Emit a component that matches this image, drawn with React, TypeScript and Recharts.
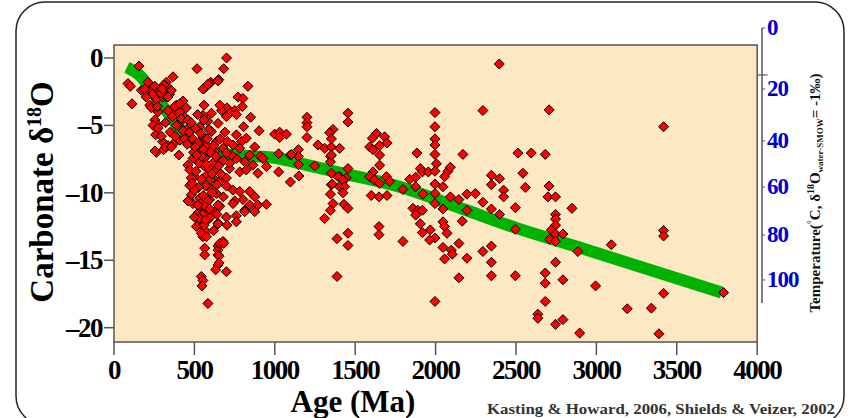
import { ComposedChart, Scatter, Line, XAxis, YAxis, ReferenceArea, ReferenceLine } from 'recharts';

// [age Ma, carbonate d18O permil]
const phanerozoic = [
  [155, -0.6], [87, -1.9], [102, -2.1], [112, -3.4], [170, -2.4], [211, -1.8], [233, -2.4], [243, -2.7],
  [191, -2.3], [222, -3.5], [254, -2.1], [264, -3.1], [239, -2.7], [326, -1.8], [367, -1.4], [284, -2.4],
  [316, -2.5], [336, -2.2], [303, -2.9], [346, -2.7], [295, -2.2], [310, -2.0], [290, -2.6], [325, -2.9],
  [300, -2.3], [357, -2.4], [336, -2.9], [429, -3.2], [388, -3.5], [367, -4.0], [409, -4.0], [440, -4.4],
  [419, -4.7], [388, -5.0], [254, -4.6], [274, -5.0], [259, -5.7], [301, -6.2], [264, -7.0], [309, -6.8],
  [336, -6.5], [367, -6.4], [404, -7.2], [409, -6.1], [233, -3.7], [274, -4.0], [243, -5.0], [274, -5.2],
  [295, -5.8], [255, -6.9], [321, -6.6], [357, -6.6], [440, -6.0], [363, -4.35], [336, -3.9], [377, -3.6],
  [409, -3.4], [450, -3.7], [419, -4.5], [460, -4.6], [455, -6.4], [450, -5.3], [200, -2.9], [270, -3.6],
  [320, -4.8], [350, -5.5], [380, -5.8], [430, -5.4],
];

const neoproterozoic = [
  [516, -0.8], [700, 0.0], [682, -0.8], [651, -1.6], [601, -1.8], [558, -2.3], [575, -2.1], [595, -1.9],
  [647, -1.7], [553, -2.3], [584, -1.95], [833, -2.1], [771, -2.9], [802, -3.0], [798, -3.6], [751, -3.9],
  [703, -3.7], [719, -4.1], [761, -4.2], [699, -4.35], [668, -3.9], [850, -4.4], [806, -5.1], [761, -5.7],
  [792, -6.2], [740, -6.45], [782, -6.7], [823, -5.95], [902, -5.4], [999, -5.65], [560, -3.5], [606, -4.1],
  [658, -3.5], [553, -4.25], [533, -5.1], [584, -4.7], [647, -4.85], [606, -5.45], [553, -5.85], [637, -6.2],
  [678, -6.7], [626, -6.95], [575, -6.45], [533, -6.95], [491, -7.45], [875, -6.6], [910, -7.3], [844, -7.2],
  [813, -7.7], [761, -7.45], [730, -7.2], [699, -7.05], [658, -7.7], [719, -8.2], [782, -8.45], [823, -8.3],
  [864, -7.95], [895, -8.55], [948, -8.05], [926, -7.45], [460, -7.95], [471, -8.3], [502, -8.8], [471, -9.45],
  [512, -9.65], [481, -10.15], [533, -10.4], [491, -10.8], [553, -11.15], [522, -11.5], [543, -12.15], [512, -12.5],
  [575, -12.9], [553, -13.25], [584, -11.9], [575, -8.7], [616, -8.9], [658, -9.15], [595, -9.65], [637, -10.05],
  [595, -10.5], [658, -11.0], [626, -11.4], [699, -11.8], [647, -12.25], [699, -8.9], [740, -9.8], [782, -9.9],
  [802, -10.5], [751, -10.6], [844, -9.9], [875, -10.3], [844, -10.9], [895, -10.9], [948, -10.85], [813, -11.3],
  [875, -11.4], [761, -11.7], [703, -12.4], [761, -12.15], [678, -13.6], [533, -11.0], [575, -11.4], [553, -11.6],
  [533, -12.3], [584, -12.0], [647, -12.3], [813, -11.4], [740, -10.8], [647, -10.9], [543, -13.0], [575, -13.25],
  [564, -14.1], [564, -14.6], [647, -13.95], [647, -14.25], [658, -13.75], [682, -13.75], [647, -14.6], [647, -15.35],
  [632, -15.7], [699, -15.85], [543, -16.2], [553, -16.5], [547, -16.9], [584, -18.2], [653, -14.7], [653, -15.2],
  [470, -5.5], [490, -6.0], [505, -5.2], [520, -6.3], [540, -5.6], [555, -6.8], [565, -7.4], [580, -6.0],
  [600, -7.0], [615, -7.8], [590, -8.2], [560, -8.0], [530, -7.8], [510, -8.4], [545, -9.0], [570, -9.5],
  [600, -9.0], [625, -8.4], [650, -8.0], [640, -9.4], [610, -10.0], [585, -10.6], [555, -10.2], [525, -9.6],
  [500, -9.8], [540, -10.8], [565, -11.0], [520, -10.9], [480, -8.9], [495, -7.0], [620, -6.5], [660, -6.0],
  [690, -5.5], [705, -6.2], [680, -7.6], [720, -7.8], [700, -9.5], [680, -10.3], [600, -11.8], [560, -12.4],
  [530, -11.9], [620, -12.8], [500, -11.8], [590, -5.3], [560, -4.6], [520, -4.2], [480, -4.8], [505, -6.6],
  [545, -7.3], [575, -7.9], [610, -8.6], [635, -7.3], [665, -8.6], [595, -11.2], [570, -12.0], [515, -7.2],
  [485, -9.3], [460, -10.6], [640, -11.6],
];

const mesoproterozoic = [
  [1030, -5.5], [1030, -5.9], [1072, -5.65], [1200, -4.4], [1200, -4.8], [1200, -5.1], [1200, -5.9], [1024, -7.1],
  [1147, -6.8], [1147, -7.3], [1147, -7.9], [1097, -7.2], [1103, -7.15], [1024, -8.45], [1097, -9.2], [1150, -8.75],
  [1248, -8.0], [1268, -6.45], [1310, -6.7], [1352, -6.6], [1362, -5.3], [1341, -5.55], [1403, -6.7], [1346, -7.3],
  [1346, -7.7], [1352, -8.55], [1403, -8.8], [1352, -9.4], [1346, -10.1], [1403, -9.55], [1445, -8.9], [1455, -8.2],
  [1362, -10.8], [1346, -11.3], [1310, -11.9], [1387, -13.4], [1387, -16.2], [1455, -13.0], [1455, -13.9], [1455, -4.1],
  [1455, -4.75], [1352, -6.0], [1352, -7.2], [1358, -9.35], [1393, -8.8], [1424, -9.05], [1434, -9.55], [1424, -10.0],
  [1430, -10.85], [1455, -11.15], [1632, -5.6], [1607, -5.95], [1590, -6.6], [1611, -6.8], [1652, -6.5], [1683, -5.85],
  [1698, -6.3], [1652, -7.2], [1652, -7.95], [1611, -8.45], [1590, -8.8], [1620, -9.05], [1652, -9.3], [1694, -8.8],
  [1714, -9.15], [1600, -10.2], [1648, -10.3], [1698, -10.2], [1648, -12.5], [1648, -13.1], [1797, -13.6], [1797, -9.75],
];

const archeanPaleo = [
  [1884, -7.05], [1905, -8.2], [1918, -8.45], [1955, -8.45], [1839, -9.0], [1876, -8.85], [1876, -9.55], [1921, -10.1],
  [1996, -4.05], [1996, -5.1], [1996, -6.0], [1996, -6.45], [1996, -7.15], [2005, -7.85], [1996, -8.4], [1996, -9.35],
  [1996, -10.05], [1996, -10.8], [2046, -9.55], [2077, -8.4], [2092, -8.1], [2056, -8.8], [2046, -11.2], [2092, -10.3],
  [2145, -10.5], [2195, -10.1], [2247, -10.05], [2195, -11.3], [2166, -12.1], [1859, -11.15], [1890, -11.3], [1918, -11.3],
  [1876, -11.65], [1905, -12.3], [1918, -12.95], [1967, -12.75], [1996, -13.35], [2046, -12.15], [2056, -12.5], [2071, -13.0],
  [1963, -13.5], [2046, -14.05], [2098, -14.25], [2104, -14.55], [2056, -14.9], [2145, -13.75], [2195, -14.85], [2145, -16.3],
  [1996, -18.05], [2170, -7.15], [2347, -8.7], [2347, -9.4], [2398, -8.95], [2423, -9.8], [2423, -10.3], [2512, -7.05],
  [2595, -7.05], [2682, -7.15], [2543, -8.55], [2558, -9.6], [2705, -9.5], [2699, -10.3], [2746, -10.3], [2294, -10.7],
  [2347, -11.2], [2398, -11.6], [2496, -11.1], [2496, -12.7], [2294, -14.35], [2347, -13.95], [2347, -15.15], [2347, -16.15],
  [2496, -16.15], [2746, -11.6], [2746, -11.95], [2746, -12.4], [2720, -12.75], [2746, -13.05], [2792, -13.05], [2709, -13.45],
  [2746, -13.6], [2848, -11.15], [2746, -15.15], [2682, -15.95], [2682, -16.7], [2792, -16.45], [2682, -18.05], [2636, -19.0],
  [2636, -19.3], [2746, -19.75], [2792, -19.4], [2885, -14.35], [2896, -20.4], [2396, -0.45], [2294, -3.9], [2706, -3.85],
  [3418, -5.1], [3418, -12.8], [3418, -13.2], [3093, -13.85], [2995, -16.9], [3418, -17.45], [3192, -18.6], [3342, -18.55],
  [3389, -20.45], [3791, -17.4],
];

// green trend curve
const fitAges = [80, 160, 250, 350, 470, 600, 750, 1000, 1150, 1400, 1760, 2170, 2500, 2880, 3780];
const fitD18 = [-0.7, -1.3, -2.7, -4.3, -6.1, -6.9, -7.2, -7.4, -7.8, -8.5, -9.5, -11.2, -12.6, -14.0, -17.4];

const xTicks = [0, 500, 1000, 1500, 2000, 2500, 3000, 3500, 4000];
const d18Ticks = [0, -5, -10, -15, -20];
const tempLabels = [0, 20, 40, 60, 80, 100];
const tempAtD18 = [2.22, -2.3, -6.15, -9.57, -13.13, -16.46];

const samples = [...phanerozoic, ...neoproterozoic, ...mesoproterozoic, ...archeanPaleo].map(([age, d18]) => ({ age, d18 }));
const curve = fitAges.map((age, i) => ({ age, d18: fitD18[i] }));

const SERIF = "'Liberation Serif', 'Times New Roman', serif";
const D_MIN = -21.06;
const D_MAX = 2.22;

const Diamond = (p: any) => {
  const { cx, cy } = p;
  if (cx == null || cy == null) return null;
  const r = 5;
  return <polygon points={`${cx},${cy - r} ${cx + r},${cy} ${cx},${cy + r} ${cx - r},${cy}`} fill="#FF0000" stroke="#000" strokeWidth={1} />;
};

const XTick = ({ x, y, payload }: any) => (
  <text x={x} y={y + 22} textAnchor="middle" fontFamily={SERIF} fontWeight="bold" fontSize={27} letterSpacing={-1.5} fill="#000">
    {payload.value}
  </text>
);

const LeftTick = ({ x, y, payload }: any) => (
  <text x={x} y={y + 9} textAnchor="end" fontFamily={SERIF} fontWeight="bold" fontSize={27} letterSpacing={-1.5} fill="#000">
    {payload.value === 0 ? '0' : '\u2013' + Math.abs(payload.value)}
  </text>
);

const RightTick = ({ x, y, payload }: any) => (
  <text x={x} y={y + 7} textAnchor="start" fontFamily={SERIF} fontWeight="bold" fontSize={23} letterSpacing={-1} fill="#0000CC">
    {tempLabels[tempAtD18.indexOf(payload.value)]}
  </text>
);

export default function App() {
  return (
    <div style={{ position: 'absolute', left: 0, top: 0, width: 854, height: 418, background: '#fff' }}>
      <ComposedChart width={854} height={418} margin={{ top: 28, right: 42, bottom: 26, left: 14 }}>
        <XAxis type="number" dataKey="age" domain={[0, 4030]} ticks={xTicks} interval={0} allowDataOverflow
          axisLine={false} tickLine={{ stroke: '#555', strokeWidth: 1.5 }} tickSize={13} tickMargin={2} height={50} tick={XTick} />
        <YAxis yAxisId="d18" type="number" dataKey="d18" domain={[D_MIN, D_MAX]} ticks={d18Ticks} interval={0} allowDataOverflow
          axisLine={false} tickLine={{ stroke: '#555', strokeWidth: 1.5 }} tickSize={10} tickMargin={2} width={100} tick={LeftTick} />
        <YAxis yAxisId="temp" orientation="right" type="number" domain={[D_MIN, D_MAX]} ticks={tempAtD18} interval={0} allowDataOverflow
          axisLine={false} tickLine={{ stroke: '#555' }} tickSize={3} tickMargin={2} width={50} tick={RightTick} />
        <ReferenceArea yAxisId="d18" x1={0} x2={4000} y1={D_MIN} y2={0.96} fill="#FCE8C2" fillOpacity={1} stroke="#555" strokeWidth={1.5} />
        <ReferenceLine yAxisId="d18" segment={[{ x: 4030, y: D_MAX }, { x: 4030, y: -18.17 }]} stroke="#555" strokeWidth={1.5} />
        <ReferenceLine yAxisId="d18" segment={[{ x: 4000, y: -1.26 }, { x: 4065, y: -1.26 }]} stroke="#555" strokeWidth={1.2} ifOverflow="visible" />
        <Line yAxisId="d18" data={curve} dataKey="d18" type="monotone" stroke="#00B300" strokeWidth={12} dot={false} isAnimationActive={false} />
        <Scatter yAxisId="d18" data={samples} dataKey="d18" shape={Diamond} isAnimationActive={false} />
      </ComposedChart>
      <svg width={854} height={418} style={{ position: 'absolute', left: 0, top: 0, pointerEvents: 'none' }}>
        <rect x={16} y={2} width={828} height={423} rx={29} fill="none" stroke="#222" strokeWidth={1.5} />
        <text transform="rotate(-90)" x={-192} y={53} textAnchor="middle" fontFamily={SERIF} fontWeight="bold" fontSize={33} fill="#000">
          Carbonate δ<tspan dy={-12} fontSize={20}>18</tspan><tspan dy={12}>O</tspan>
        </text>
        <text x={353} y={412} textAnchor="middle" fontFamily={SERIF} fontWeight="bold" fontSize={31} fill="#000">Age (Ma)</text>
        <text x={487} y={414} fontFamily={SERIF} fontWeight="bold" fontSize={15.5} textLength={348} lengthAdjust="spacingAndGlyphs" fill="#333">
          Kasting &amp; Howard, 2006, Shields &amp; Veizer, 2002
        </text>
        <text transform="rotate(-90)" x={-193} y={820} textAnchor="middle" fontFamily={SERIF} fontWeight="bold" fontSize={15} fill="#111">
          Temperature(<tspan dy={-5} fontSize={10}>°</tspan><tspan dy={5}>C,  δ</tspan><tspan dy={-6} fontSize={10}>18</tspan><tspan dy={6}>O</tspan><tspan dy={3} fontSize={9}>water-SMOW</tspan><tspan dy={-3}>= -1‰)</tspan>
        </text>
      </svg>
    </div>
  );
}
